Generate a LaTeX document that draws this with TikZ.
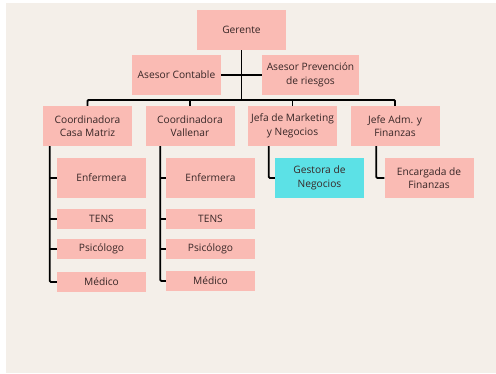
\documentclass[tikz,border=0pt]{standalone}
\usepackage{fontspec}
\setmainfont{Open Sans}
\usetikzlibrary{positioning}
\definecolor{fondo}{RGB}{244,239,233}
\definecolor{rosa}{RGB}{250,187,180}
\definecolor{celeste}{RGB}{92,225,230}
\definecolor{texto}{RGB}{55,38,38}

\begin{document}
\begin{tikzpicture}[x=1pt, y=-1pt,
    cargo/.style={rectangle, fill=rosa, text=texto, minimum width=89pt, minimum height=40pt, inner sep=0pt, align=center, font=\fontsize{10.2}{13.5}\selectfont},
    chico/.style={cargo, minimum height=20pt},
    linea/.style={black, line width=1.8pt, rounded corners=1pt}]

    \useasboundingbox (0,0) rectangle (496,373);
    \fill[fondo] (6,3) rectangle (496,373);

    % direccion
    \node[cargo] (G) at (241.5,30) {Gerente};
    \node[cargo] (AC) at (176.5,75) {Asesor Contable};
    \node[cargo, minimum width=97pt] (AP) at (310.5,75) {Asesor Prevención\\de riesgos};
    \coordinate (barra) at (241.5,100);

    % jefaturas
    \node[cargo] (C1) at (87.5,126) {Coordinadora\\Casa Matriz};
    \node[cargo] (C2) at (190,126) {Coordinadora\\Vallenar};
    \node[cargo] (JM) at (292.5,126) {Jefa de Marketing\\y Negocios};
    \node[cargo] (JA) at (395,126) {Jefe Adm. y\\Finanzas};

    % Casa Matriz
    \node[cargo] (E1) at (101.5,178) {Enfermera};
    \node[chico] (T1) at (101.5,219) {TENS};
    \node[chico] (P1) at (101.5,249) {Psicólogo};
    \node[chico] (M1) at (101.5,282) {Médico};

    % Vallenar
    \node[cargo] (E2) at (210.5,178) {Enfermera};
    \node[chico] (T2) at (210.5,219) {TENS};
    \node[chico] (P2) at (210.5,249) {Psicólogo};
    \node[chico] (M2) at (210.5,281) {Médico};

    \node[cargo, fill=celeste] (GN) at (319.5,178) {Gestora de\\Negocios};
    \node[cargo] (EF) at (429,178) {Encargada de\\Finanzas};

    \draw[linea] (G.south) -- (barra);
    \draw[linea] (AC.east) -- (AP.west);
    \draw[linea] (C1.north) -- (C1.north |- barra) -- (JA.north |- barra) -- (JA.north);
    \draw[linea] (C2.north) -- (C2.north |- barra);
    \draw[linea] (JM.north) -- (JM.north |- barra);

    \draw[linea] ([xshift=7pt]C1.south west) |- (M1.west);
    \foreach \n in {E1,T1,P1}
        \draw[linea] (\n.west) -- ++(-7,0);
    \draw[linea] ([xshift=15pt]C2.south west) |- (M2.west);
    \foreach \n in {E2,T2,P2}
        \draw[linea] (\n.west) -- ++(-5,0);

    \draw[linea] ([xshift=21pt]JM.south west) |- (GN.west);
    \draw[linea] ([xshift=26pt]JA.south west) |- (EF.west);
\end{tikzpicture}
\end{document}
